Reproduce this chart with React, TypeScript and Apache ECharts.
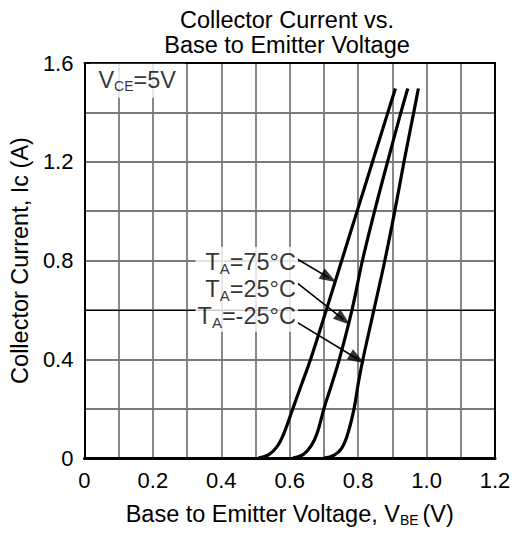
import React, { useEffect, useRef } from 'react';
import * as echarts from 'echarts';

// ---- data ----
const vbe75 = [0.508, 0.54, 0.565, 0.583, 0.609, 0.635, 0.661, 0.707, 0.752, 0.797, 0.842, 0.887, 0.909];
const ic75 = [0, 0.015, 0.05, 0.1, 0.2, 0.3, 0.4, 0.6, 0.8, 1.0, 1.2, 1.4, 1.497];

const vbe25 = [0.609, 0.64, 0.663, 0.68, 0.7, 0.723, 0.745, 0.782, 0.8125, 0.848, 0.886, 0.925, 0.945];
const ic25 = [0, 0.015, 0.05, 0.1, 0.2, 0.3, 0.4, 0.6, 0.8, 1.0, 1.2, 1.4, 1.497];

const vbeM25 = [0.7, 0.73, 0.752, 0.77, 0.788, 0.8, 0.814, 0.846, 0.878, 0.907, 0.934, 0.9625, 0.976];
const icM25 = [0, 0.012, 0.04, 0.1, 0.2, 0.3, 0.4, 0.6, 0.8, 1.0, 1.2, 1.4, 1.497];

const curveLabels = ['T{s|A}=75°C', 'T{s|A}=25°C', 'T{s|A}=-25°C'];
const conditionLabel = 'V{s|CE}=5V';

// annotation anchors / arrows in data units (V, A)
const labelAnchor = [0.624, 0.6838];
const conditionAnchor = [0.0173, 1.528];
const arrowStarts = [
  [0.6231, 0.8049],
  [0.6231, 0.7077],
  [0.6231, 0.5481],
];
const arrowHeads = [
  [0.7148, 0.7295],
  [0.7569, 0.5614],
  [0.797, 0.4018],
];
const darkGridY = 0.6;

const xMin = 0, xMax = 1.2, xStep = 0.2;
const yMin = 0, yMax = 1.6, yStep = 0.4;

const titleText = 'Collector Current vs.\nBase to Emitter Voltage';
const xName = 'Base to Emitter Voltage, V{s|BE }(V)';
const yName = 'Collector Current, Ic (A)';

const zip = (xs: number[], ys: number[]) => xs.map((x, i) => [x, ys[i]]);
const fmt = (v: number) => (v === 0 ? '0' : v.toFixed(1));

const FONT = "'Liberation Sans', Arial, Helvetica, sans-serif";
const GRID_COLOR = '#7a7a7a';
const ARROW_HEAD = 'path://M6 0 L12 17 L0 17 Z';

export default function App() {
  const ref = useRef<HTMLDivElement>(null);

  useEffect(() => {
    if (!ref.current) return;
    const chart = echarts.init(ref.current, undefined, { renderer: 'svg' });

    const splitLine = {
      show: true,
      showMinLine: false,
      showMaxLine: false,
      lineStyle: { color: GRID_COLOR, width: 1.8 },
    };
    const minorSplitLine = { show: true, lineStyle: { color: GRID_COLOR, width: 1.8 } };
    const subRich = (size: number, lh: number) => ({
      fontSize: size,
      lineHeight: lh,
      verticalAlign: 'bottom',
      fontFamily: FONT,
      color: '#000',
    });

    const curve = (name: string, xs: number[], ys: number[], extra: any = {}) => ({
      type: 'line',
      name,
      data: zip(xs, ys),
      smooth: 0.4,
      symbol: 'none',
      showSymbol: false,
      silent: true,
      z: 3,
      lineStyle: { color: '#000', width: 3.2 },
      itemStyle: { color: '#000' },
      ...extra,
    });

    const option: any = {
      animation: false,
      textStyle: { fontFamily: FONT, color: '#000' },
      title: {
        text: titleText,
        left: 287,
        top: 7.5,
        textAlign: 'center',
        padding: 0,
        textStyle: {
          fontSize: 23.5,
          lineHeight: 25,
          fontWeight: 'normal',
          color: '#000',
          fontFamily: FONT,
        },
      },
      grid: { left: 79, right: 20, top: 63, bottom: 75 },
      xAxis: [
        {
          type: 'value',
          min: xMin,
          max: xMax,
          interval: xStep,
          position: 'bottom',
          axisLine: { show: true, onZero: false, lineStyle: { color: '#000', width: 3 } },
          axisTick: { show: false },
          minorTick: { show: false, splitNumber: 2 },
          axisLabel: { margin: 11, fontSize: 22, color: '#000', fontFamily: FONT, formatter: fmt },
          splitLine,
          minorSplitLine,
          name: xName,
          nameLocation: 'middle',
          nameGap: 43,
          nameTextStyle: {
            fontSize: 23.5,
            lineHeight: 26,
            color: '#000',
            fontFamily: FONT,
            rich: { s: subRich(14, 14) },
          },
        },
        {
          type: 'value',
          min: xMin,
          max: xMax,
          position: 'top',
          axisLine: { show: true, onZero: false, lineStyle: { color: '#000', width: 2 } },
          axisTick: { show: false },
          axisLabel: { show: false },
          splitLine: { show: false },
        },
      ],
      yAxis: [
        {
          type: 'value',
          min: yMin,
          max: yMax,
          interval: yStep,
          position: 'left',
          axisLine: { show: true, onZero: false, lineStyle: { color: '#000', width: 2 } },
          axisTick: { show: false },
          minorTick: { show: false, splitNumber: 2 },
          axisLabel: { margin: 11, fontSize: 22, color: '#000', fontFamily: FONT, formatter: fmt },
          splitLine,
          minorSplitLine,
          name: yName,
          nameLocation: 'middle',
          nameRotate: 90,
          nameGap: 44,
          nameTextStyle: { fontSize: 23.5, lineHeight: 23.5, color: '#000', fontFamily: FONT },
        },
        {
          type: 'value',
          min: yMin,
          max: yMax,
          position: 'right',
          axisLine: { show: true, onZero: false, lineStyle: { color: '#000', width: 2 } },
          axisTick: { show: false },
          axisLabel: { show: false },
          splitLine: { show: false },
        },
      ],
      series: [
        curve('TA=75°C', vbe75, ic75, {
          markLine: {
            silent: true,
            z: 1,
            symbol: 'none',
            label: { show: false },
            lineStyle: { color: '#000', width: 1, type: 'solid' },
            data: [{ yAxis: darkGridY }],
          },
        }),
        curve('TA=25°C', vbe25, ic25),
        curve('TA=-25°C', vbeM25, icM25),
        {
          type: 'scatter',
          name: 'temps',
          data: [labelAnchor],
          symbolSize: 0,
          silent: true,
          z: 10,
          itemStyle: { color: '#000' },
          label: {
            show: true,
            position: 'left',
            distance: 0,
            align: 'right',
            formatter: curveLabels.join('\n'),
            fontSize: 23.5,
            lineHeight: 27,
            color: '#000',
            fontFamily: FONT,
            backgroundColor: '#fff',
            padding: [2, 2, 2, 2],
            rich: { s: subRich(15, 13) },
          },
          markLine: {
            silent: true,
            z: 10,
            symbol: ['none', 'none'],
            label: { show: false },
            lineStyle: { color: '#000', width: 1.6, type: 'solid' },
            data: arrowStarts.map((s, i) => [{ coord: s }, { coord: arrowHeads[i] }]),
          },
        },
        {
          id: 'heads',
          type: 'scatter',
          name: 'arrow heads',
          data: arrowHeads,
          symbol: ARROW_HEAD,
          symbolSize: [12, 17],
          silent: true,
          z: 11,
          itemStyle: { color: '#000' },
        },
        {
          type: 'scatter',
          name: 'condition',
          data: [conditionAnchor],
          symbolSize: 0,
          silent: true,
          z: 10,
          itemStyle: { color: '#000' },
          label: {
            show: true,
            position: 'right',
            distance: 0,
            formatter: conditionLabel,
            fontSize: 23.5,
            lineHeight: 26,
            color: '#000',
            fontFamily: FONT,
            backgroundColor: '#fff',
            padding: [3, 9, 5, 8],
            rich: { s: subRich(14, 14) },
          },
        },
      ],
    };

    chart.setOption(option);

    // orient arrow heads along their shafts (pixel direction from the axes' own scales)
    const rotations = arrowStarts.map((s, i) => {
      const a = chart.convertToPixel({ gridIndex: 0 }, s) as number[];
      const b = chart.convertToPixel({ gridIndex: 0 }, arrowHeads[i]) as number[];
      const ang = (Math.atan2(-(b[1] - a[1]), b[0] - a[0]) * 180) / Math.PI;
      return ang - 90;
    });
    chart.setOption({
      series: [
        {
          id: 'heads',
          data: arrowHeads.map((h, i) => ({ value: h, symbolRotate: rotations[i] })),
        },
      ],
    });

    return () => chart.dispose();
  }, []);

  return (
    <div
      ref={ref}
      style={{ position: 'absolute', left: 0, top: 0, width: 515, height: 533, background: '#fff' }}
    />
  );
}
